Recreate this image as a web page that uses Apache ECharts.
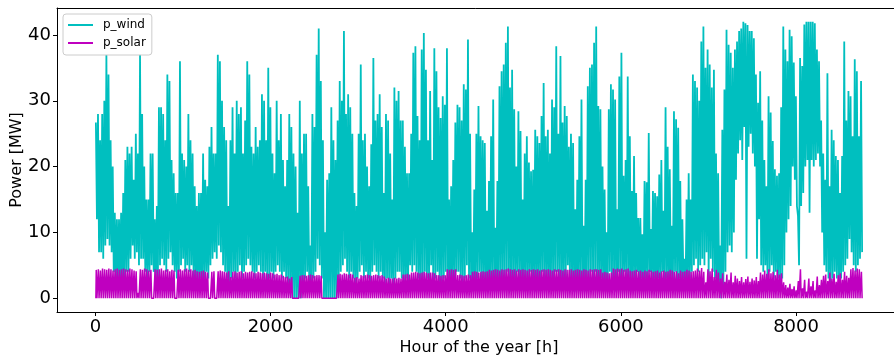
<!DOCTYPE html>
<html>
<head>
<meta charset="utf-8">
<script src="https://cdn.jsdelivr.net/npm/echarts@6/dist/echarts.min.js"></script>
<style>
  html, body { margin: 0; padding: 0; background: #fff; }
  #chart { width: 894px; height: 358px; }
</style>
</head>
<body>
<div id="chart"></div>
<script>
// Hourly power of a wind farm and a PV plant over one year (8760 h).
// Wind: daily maximum and minimum output [MW], one value per day.
const windHigh = [
  26.7,28,24,28,30,37,34,24,20,13,
  12,12,13,16,21,23,22,23,18,25,
  22,37,28,20,15,15,22,22,12,14,
  29,29,28,24,34,33,21,19,16,16,
  36,22,21,20,28,24,22,17,14,16,
  16,22,18,17,23,26,22,22,37,36,
  30,26,24,14,24,29,22,30,28,29,
  22,27,36,34,23,22,26,23,24,31,
  30,24,35,29,22,19,30,24,28,21,
  17,21,28,26,22,20,13,30,22,25,
  25,17,8,28,26,37,41,33,24,10,
  18,19,29,24,21,27,33,30,40.6,28,
  31,29,25,16,14,25,35.5,24,25,20,
  17,23.4,36.5,27,28,31,26,16,28,27,
  22,15,32,30,31.5,27,27,23,19,19,
  25,37.3,38.3,27.7,24,37.8,40.3,34.7,24,31.5,
  21,38,34.5,29,27.4,30.7,29.4,38,15,17,
  21,26.7,29.4,29,27,32.5,31.7,39.3,25,10,
  16.5,25,29.2,24.6,24,23.6,13.3,17.8,24.6,30.2,
  10.7,17.8,32.2,34.5,35.5,38.8,41.3,32,34.7,28.7,
  20,28.4,25.4,15,22,24.6,20.6,19.3,19.5,25.6,
  24.6,23.6,27.7,32.7,24.6,25.6,22,30.2,29,38.3,
  25,36.8,26.7,29.2,27.7,23,25,23.6,13.5,18,
  24.6,30.2,11,18,32.2,35,35.5,38.8,41.3,29.2,
  28.7,20,16.5,10,28.7,32.5,31.7,30.2,13.5,33.7,
  37.3,18.6,21,33.7,24.6,16.3,21.6,16,12.2,12.2,
  9.7,17.8,17.6,25.1,10.5,16.3,16,15.5,18.8,21,
  13.3,29,23,19.6,11,28.4,27.2,25.9,17.8,12,
  6,15,19,15,34,33,32,30,39,41.3,
  35,37.8,35.5,32,34.7,22,19,8,25.6,31.7,
  40.8,38.5,37.3,35,37.8,39,40.6,41,42,41.8,
  41.5,40.6,40.6,39.5,34,29.7,34.5,27,21,17,
  30.7,28.2,23.9,19.6,18.6,19,29,41.3,37.8,36,
  40.8,39.8,35.8,30.7,12.5,36.5,35.3,41.6,42,42,
  42,42,41.8,37.8,36,27,22,18,34.2,17,
  25.6,24,21.6,21,16,21.6,39,27,31.5,30.7,
  24.6,36.3,34.5,24.6,33
];
const windLow = [
  12,7,7,6,8,9,8,7,4,2,
  3,3,2,3,4,4,6,8,6,7,
  5,6,6,4,3,4,5,4,2,3,
  5,6,5,4,6,7,5,4,3,4,
  5,6,4,5,4,5,3,3,2,3,
  2,3,4,3,5,6,7,6,8,7,
  5,4,3,2,3,4,3,4,5,3,
  4,5,6,5,4,3,4,5,4,3,
  4,2,3,4,3,4,5,4,3,4,
  3,2,1,0,0,0,0,0,1,3,
  4,2,1,3,4,6,5,3,0,0,
  0,0,0,0,0,2,4,5,6,4,
  3,4,3,2,3,4,5,3,4,3,
  2,4,5,4,3,4,3,2,3,2,
  3,1,3,4,4,3,1,3,2,5,
  4,5,4,3,1,3,4,3,2,5,
  2,3,4,1,2,3,4,3,1,3,
  2,4,4,3,1,3,5,3,2,1,
  2,3,4,2,3,1,1,2,3,2,
  1,2,3,2,3,4,3,1,3,2,
  4,2,3,1,3,2,4,2,3,1,
  3,2,4,2,3,1,3,2,4,4,
  3,1,3,2,5,2,3,1,1,2,
  3,2,1,2,3,4,3,4,3,1,
  3,2,1,2,4,2,3,1,4,3,
  2,4,2,3,1,3,2,4,2,3,
  1,3,2,4,2,3,1,3,2,4,
  2,3,1,3,2,4,2,3,1,3,
  1,2,3,4,5,6,4,5,6,5,
  7,3,6,4,3,2,1,0,2,4,
  7,8,7,10,18,22,24,21,26,6,
  23,25,22,20,6,12,5,4,5,3,
  4,5,3,4,3,2,3,5,10,12,
  14,20,18,14,5,14,16,20,21,13,
  21,20,21,22,20,10,5,4,3,2,
  3,4,3,2,3,4,5,6,9,7,
  5,4,5,6,7
];
// PV: daily peak output [MW] (zero at night).
const solarPeak = [
  4.3,4.4,4.2,4.5,4.4,4.3,4.5,4.4,4.2,4.4,
  4.5,4.3,4.4,4.5,4.4,4.3,4.5,4.4,4.2,4.1,
  0.8,4.4,4.3,4.5,4.4,4.2,4.3,0.2,4.4,4.3,
  4.4,4.5,4.2,4.3,4.4,4.1,4.3,4.2,0.3,4.3,
  4.4,4.2,4.4,4.5,4.3,4.4,4.2,4.3,4.1,4.0,
  4.1,4.2,4.0,3.9,0.2,4.0,4.1,0.1,4.1,4.2,
  4.1,4.0,3.9,4.1,3.2,4.0,4.1,3.9,4.0,4.1,
  3.8,4.0,3.9,4.0,4.1,3.9,3.8,4.0,3.9,3.8,
  3.9,3.8,3.7,3.9,3.8,3.6,3.7,3.5,3.6,3.4,
  3.2,3.3,3.0,3.2,0.1,0.1,0.1,3.4,3.5,3.5,
  3.4,3.5,3.6,3.5,3.4,3.5,3.5,3.4,0,0,
  0,0,0,0,0,3.6,3.7,3.6,3.8,3.7,
  3.6,3.7,3.6,3.1,3.2,3.0,3.5,3.4,3.5,3.6,
  3.5,3.4,3.5,3.6,3.5,3.4,3.5,3.3,3.0,3.1,
  3.0,3.0,3.1,3.0,3.1,3.0,3.6,3.6,3.7,3.6,
  3.9,3.9,4.0,3.9,3.8,3.9,4.0,3.9,3.8,3.9,
  3.9,3.8,3.5,3.5,3.4,3.5,3.5,4.4,4.3,4.4,
  4.3,4.4,3.5,3.6,3.5,3.4,3.5,3.6,3.5,4.0,
  4.1,4.0,3.9,4.0,4.1,4.0,4.1,4.3,4.2,4.3,
  4.4,4.3,4.2,4.4,4.3,4.4,4.5,4.4,4.3,4.4,
  4.2,4.4,4.3,4.4,4.3,4.2,4.4,4.3,4.4,4.3,
  4.4,4.2,4.3,4.4,4.3,4.4,4.3,4.2,4.4,4.3,
  4.4,4.3,4.2,4.4,4.3,4.3,4.4,4.2,4.3,4.4,
  4.3,4.2,4.4,4.3,4.2,4.4,4.3,4.4,4.4,4.3,
  4.4,3.9,4.0,3.9,3.8,3.9,4.5,4.4,4.5,4.4,
  4.5,4.3,4.4,4.5,4.2,4.1,4.2,4.3,4.1,4.2,
  4.0,4.2,4.1,4.3,4.2,4.0,4.1,4.2,3.9,4.1,
  4.2,4.0,4.1,4.3,4.2,4.0,4.1,3.8,4.2,4.0,
  4.1,4.3,4.2,4.0,4.1,4.2,4.5,4.2,4.6,4.0,
  2.4,4.4,4.1,4.5,3.2,4.3,3.9,3.0,3.8,2.5,
  3.6,2.8,3.9,2.4,3.4,3.0,2.6,3.2,2.4,2.9,
  3.3,2.5,3.0,2.7,3.2,2.6,3.9,3.6,4.2,3.7,
  4.4,3.8,4.0,3.5,4.3,3.6,3.8,2.4,2.0,1.6,
  2.2,1.4,1.8,1.2,2.6,4.4,1.5,2.8,1.0,3.0,
  1.8,2.6,1.2,3.3,2.0,2.8,3.4,3.6,2.6,3.9,
  3.0,3.7,2.5,3.5,3.8,2.8,4.0,3.4,3.1,4.4,
  4.6,4.2,4.5,4.4,4.0
];
const xTicks = [0, 2000, 4000, 6000, 8000];
const yTicks = [0, 10, 20, 30, 40];

// Build [hour, value] pairs: wind max around 06h, min around 18h;
// PV zero at 06h and 18h with its peak held from 10h to 14h.
const windData = [];
windHigh.forEach((h, d) => {
  windData.push([d * 24 + 6, h]);
  windData.push([d * 24 + 18, windLow[d]]);
});
const solarData = [];
solarPeak.forEach((p, d) => {
  solarData.push([d * 24 + 6, 0]);
  solarData.push([d * 24 + 10, p]);
  solarData.push([d * 24 + 14, p]);
  solarData.push([d * 24 + 18, 0]);
});

const FONT = 'DejaVu Sans';
const chart = echarts.init(document.getElementById('chart'), null, { renderer: 'canvas' });
const spine = { show: true, onZero: false, lineStyle: { color: '#000', width: 1 } };

chart.setOption({
  animation: false,
  backgroundColor: '#fff',
  textStyle: { fontFamily: FONT },
  grid: { left: 57, right: -7, top: 8, bottom: 46, containLabel: false, outerBoundsMode: 'none' },
  legend: {
    orient: 'vertical',
    left: 63, top: 14,
    padding: [4, 6, 5, 5],
    itemGap: 4,
    itemWidth: 25, itemHeight: 2,
    icon: 'rect',
    backgroundColor: 'rgba(255,255,255,0.8)',
    borderColor: '#cccccc', borderWidth: 1, borderRadius: 3,
    textStyle: { fontFamily: FONT, fontSize: 12, color: '#000', lineHeight: 14, padding: [0, 0, 0, 5] },
    data: ['p_wind', 'p_solar']
  },
  xAxis: [{
    type: 'value', min: -438, max: 9198,
    name: 'Hour of the year [h]', nameLocation: 'middle', nameGap: 28, nameMoveOverlap: false,
    nameTextStyle: { fontFamily: FONT, fontSize: 16, color: '#000' },
    axisLine: spine,
    splitLine: { show: false },
    axisTick: { show: true, inside: false, length: 4, customValues: xTicks, lineStyle: { color: '#000' } },
    axisLabel: { customValues: xTicks, fontFamily: FONT, fontSize: 18, color: '#000', margin: 6, formatter: v => String(v) }
  }, {
    type: 'value', position: 'top', min: -438, max: 9198,
    axisLine: spine, axisTick: { show: false }, axisLabel: { show: false }, splitLine: { show: false }
  }],
  yAxis: [{
    type: 'value', min: -2.1, max: 44.1,
    name: 'Power [MW]', nameLocation: 'middle', nameGap: 32, nameMoveOverlap: false,
    nameTextStyle: { fontFamily: FONT, fontSize: 16, color: '#000' },
    axisLine: spine,
    splitLine: { show: false },
    axisTick: { show: true, inside: false, length: 4, customValues: yTicks, lineStyle: { color: '#000' } },
    axisLabel: { customValues: yTicks, fontFamily: FONT, fontSize: 18, color: '#000', margin: 6, formatter: v => String(v) }
  }, {
    type: 'value', position: 'right', min: -2.1, max: 44.1,
    axisLine: spine, axisTick: { show: false }, axisLabel: { show: false }, splitLine: { show: false }
  }],
  series: [{
    name: 'p_wind', type: 'line', data: windData,
    showSymbol: false, symbol: 'none', sampling: null,
    color: '#00bfbf',
    lineStyle: { color: '#00bfbf', width: 1.8 }
  }, {
    name: 'p_solar', type: 'line', data: solarData,
    showSymbol: false, symbol: 'none', sampling: null,
    color: '#bf00bf',
    lineStyle: { color: '#bf00bf', width: 1.5 }
  }]
});
</script>
</body>
</html>
